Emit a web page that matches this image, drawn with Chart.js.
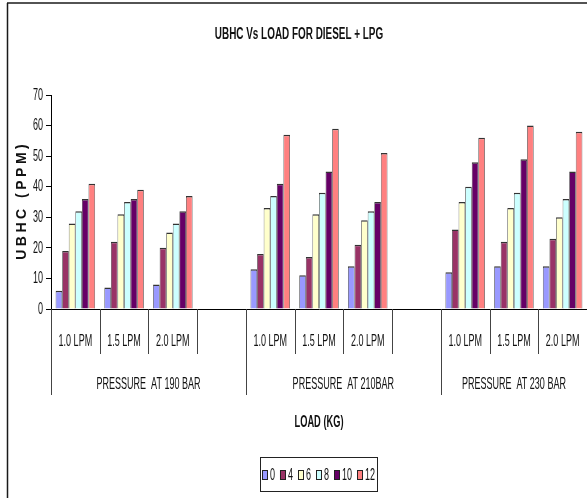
<!DOCTYPE html>
<html>
<head>
<meta charset="utf-8">
<style>
  html, body { margin: 0; padding: 0; background: #fff; overflow: hidden; }
  #wrap { width: 587px; height: 498px; position: relative; }
</style>
<script src="https://cdn.jsdelivr.net/npm/chart.js@4/dist/chart.umd.min.js"></script>
</head>
<body>
<div id="wrap"><canvas id="c" width="587" height="498"></canvas></div>
<script>
// ---- chart text ----
const chartTitle = 'UBHC Vs LOAD FOR DIESEL + LPG';
const yTitle = 'UBHC (PPM)';
const xTitle = 'LOAD (KG)';

// ---- categories (flow rate slots; blank slots separate pressure groups) ----
const flowLabels = ['1.0 LPM', '1.5 LPM', '2.0 LPM', '',
                    '1.0 LPM', '1.5 LPM', '2.0 LPM', '',
                    '1.0 LPM', '1.5 LPM', '2.0 LPM'];
const pressureLabels = ['PRESSURE  AT 190 BAR', 'PRESSURE  AT 210BAR', 'PRESSURE  AT 230 BAR'];
const pressureSpans = [[0, 4], [4, 8], [8, 11]];

// ---- series: load in kg ----
const loadLabels = ['0', '4', '6', '8', '10', '12'];
const load0  = [6, 7, 8, null, 13, 11, 14, null, 12, 14, 14];
const load4  = [19, 22, 20, null, 18, 17, 21, null, 26, 22, 23];
const load6  = [28, 31, 25, null, 33, 31, 29, null, 35, 33, 30];
const load8  = [32, 35, 28, null, 37, 38, 32, null, 40, 38, 36];
const load10 = [36, 36, 32, null, 41, 45, 35, null, 48, 49, 45];
const load12 = [41, 39, 37, null, 57, 59, 51, null, 56, 60, 58];
const seriesColors = ['#9999FF', '#993366', '#FFFFCC', '#CCFFFF', '#660066', '#FF8080'];

// ---- value axis ----
const yMin = 0, yMax = 70, yStep = 10;

const seriesValues = [load0, load4, load6, load8, load10, load12];
const FONT = '"Liberation Sans", Arial, sans-serif';
const INK = '#111';
const TXT = 17;      // label font size
const SQZ = 0.53;    // horizontal squeeze of narrow labels

// Draws horizontally condensed text; returns drawn width.
function narrowText(ctx, text, x, y, size, bold, sx, align) {
  ctx.save();
  ctx.font = (bold ? 'bold ' : '') + size + 'px ' + FONT;
  ctx.textBaseline = 'middle';
  ctx.textAlign = 'left';
  ctx.fillStyle = INK;
  const w = ctx.measureText(text).width * sx;
  const x0 = align === 'center' ? x - w / 2 : (align === 'right' ? x - w : x);
  ctx.translate(x0, y);
  ctx.scale(sx, 1);
  ctx.fillText(text, 0, 0);
  ctx.restore();
  return w;
}

function line(ctx, x1, y1, x2, y2, color, width) {
  ctx.save();
  ctx.strokeStyle = color;
  ctx.lineWidth = width;
  ctx.beginPath();
  ctx.moveTo(x1, y1);
  ctx.lineTo(x2, y2);
  ctx.stroke();
  ctx.restore();
}

const decorations = {
  id: 'decorations',
  afterDraw(chart) {
    const ctx = chart.ctx;
    const xs = chart.scales.x;
    const ys = chart.scales.y;
    const area = chart.chartArea;
    const W = chart.width, H = chart.height;

    // outer frame (left and top edges)
    line(ctx, 7.5, 3, 7.5, H, '#1a1a1a', 1.5);
    line(ctx, 7, 3, W, 3, '#1a1a1a', 1.5);

    // title
    narrowText(ctx, chartTitle, 299, 35, 16, true, 0.62, 'center');

    // y tick labels
    ys.ticks.forEach((t, i) => {
      narrowText(ctx, String(t.value), area.left - 8, ys.getPixelForTick(i), TXT, false, SQZ, 'right');
    });

    // y title (rotated, letter-spaced)
    ctx.save();
    ctx.translate(22, (area.top + area.bottom) / 2);
    ctx.rotate(-Math.PI / 2);
    ctx.font = 'bold 14px ' + FONT;
    ctx.letterSpacing = '3.5px';
    ctx.fillStyle = INK;
    ctx.textBaseline = 'middle';
    ctx.textAlign = 'left';
    const tw = ctx.measureText(yTitle).width - 3.5;
    ctx.fillText(yTitle, -tw / 2, 0);
    ctx.restore();

    // category table below the axis
    const n = flowLabels.length;
    const step = (xs.right - xs.left) / n;
    const base = area.bottom;
    const groupEdges = new Set();
    pressureSpans.forEach(s => { groupEdges.add(s[0]); groupEdges.add(s[1]); });
    for (let i = 0; i <= n; i++) {
      const x = Math.round(xs.left + i * step) + 0.5;
      const bottom = groupEdges.has(i) ? 395 : 354;
      line(ctx, x, base, x, bottom, '#444', 1);
    }
    flowLabels.forEach((lab, i) => {
      if (lab) narrowText(ctx, lab, xs.getPixelForValue(i), 341, TXT, false, SQZ, 'center');
    });
    pressureLabels.forEach((lab, g) => {
      const cx = xs.left + (pressureSpans[g][0] + pressureSpans[g][1]) / 2 * step;
      narrowText(ctx, lab, cx, 384, TXT, false, SQZ, 'center');
    });

    // x title
    narrowText(ctx, xTitle, (xs.left + xs.right) / 2, 423, 16, true, 0.58, 'center');

    // legend
    const boxL = 260, boxR = 377, boxT = 457, boxB = 491;
    ctx.save();
    ctx.font = TXT + 'px ' + FONT;
    const widths = chart.data.datasets.map(d => ctx.measureText(d.label).width * SQZ);
    ctx.restore();
    const sq = 6, gapIn = 2, gapOut = 5;
    const total = widths.reduce((a, w) => a + sq + gapIn + w, 0) + gapOut * (widths.length - 1);
    let lx = (boxL + boxR) / 2 - total / 2;
    const ly = 475;
    chart.data.datasets.forEach((d, i) => {
      ctx.save();
      ctx.fillStyle = d.backgroundColor;
      ctx.fillRect(lx, ly - 5, sq, 10);
      ctx.strokeStyle = '#222';
      ctx.lineWidth = 1;
      ctx.strokeRect(Math.round(lx) + 0.5, ly - 4.5, sq - 1, 9);
      ctx.restore();
      lx += sq + gapIn;
      lx += narrowText(ctx, d.label, lx, ly, TXT, false, SQZ, 'left') + gapOut;
    });
    ctx.save();
    ctx.strokeStyle = '#222';
    ctx.lineWidth = 1;
    ctx.strokeRect(boxL + 0.5, boxT + 0.5, boxR - boxL, boxB - boxT);
    ctx.restore();
  }
};

new Chart(document.getElementById('c'), {
  type: 'bar',
  data: {
    labels: flowLabels,
    datasets: loadLabels.map((lab, i) => ({
      label: lab,
      data: seriesValues[i],
      backgroundColor: seriesColors[i],
      borderColor: 'rgba(0,0,0,0.8)',
      borderWidth: { top: 1.5, left: 0.7, right: 0.7, bottom: 0 },
      borderSkipped: 'bottom',
      categoryPercentage: 0.81,
      barPercentage: 1.0
    }))
  },
  options: {
    responsive: false,
    animation: false,
    devicePixelRatio: 1,
    layout: { padding: { top: 95, bottom: 189, left: 0, right: 0 } },
    plugins: {
      legend: { display: false },
      title: { display: false },
      tooltip: { enabled: false }
    },
    scales: {
      x: {
        type: 'category',
        grid: { display: false },
        border: { display: true, color: '#000', width: 1 },
        ticks: { display: false },
        afterFit(scale) { scale.height = 0; }
      },
      y: {
        min: yMin,
        max: yMax,
        ticks: { display: false, stepSize: yStep },
        grid: { display: true, drawOnChartArea: false, drawTicks: true, tickLength: 5, color: '#000' },
        border: { display: true, color: '#000', width: 1 },
        afterFit(scale) { scale.width = 51; }
      }
    }
  },
  plugins: [decorations]
});
</script>
</body>
</html>
